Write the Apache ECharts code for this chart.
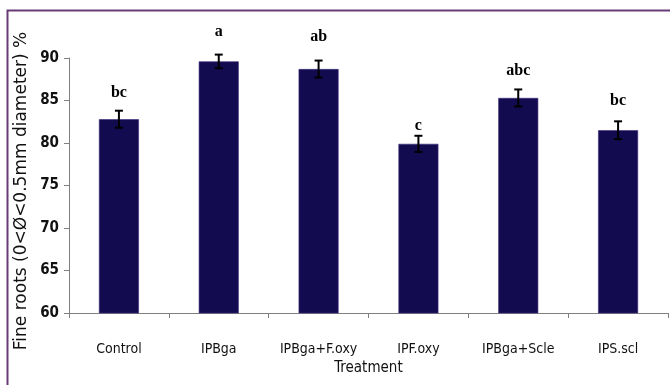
<!DOCTYPE html>
<html>
<head>
<meta charset="utf-8">
<script src="https://cdn.jsdelivr.net/npm/echarts@6/dist/echarts.min.js"></script>
<style>
html,body{margin:0;padding:0;background:#fff;}
#c{width:670px;height:385px;}
</style>
</head>
<body>
<div id="c"></div>
<script>
var categories = ['Control', 'IPBga', 'IPBga+F.oxy', 'IPF.oxy', 'IPBga+Scle', 'IPS.scl'];
var values = [82.8, 89.6, 88.7, 79.9, 85.3, 81.5];
var errors = [1.0, 0.8, 1.0, 0.95, 1.0, 1.05];
var letters = ['bc', 'a', 'ab', 'c', 'abc', 'bc'];
var letterPos = [85.9, 93.1, 92.5, 82.0, 88.5, 84.9];
var yTicks = [60, 65, 70, 75, 80, 85, 90];
var yTitle = 'Fine roots (0<Ø<0.5mm diameter) %';

var chart = echarts.init(document.getElementById('c'), null, {renderer: 'canvas'});
var option = {
  backgroundColor: '#ffffff',
  animation: false,
  graphic: [{
    type: 'rect',
    shape: {x: 7.5, y: 10.5, width: 700, height: 400},
    style: {fill: 'none', stroke: '#6a3a78', lineWidth: 2},
    silent: true
  }, {
    type: 'text',
    x: 22, y: 191,
    rotation: Math.PI / 2,
    style: {
      text: yTitle,
      fontFamily: 'DejaVu Sans',
      fontSize: 17,
      fill: '#111',
      align: 'center',
      verticalAlign: 'middle'
    },
    silent: true
  }],
  grid: {left: 69, top: 58, right: 2, bottom: 72},
  xAxis: {
    type: 'category',
    data: categories,
    name: 'Treatment',
    nameLocation: 'middle',
    nameGap: 47,
    nameTextStyle: {fontFamily: 'DejaVu Sans Condensed', fontSize: 15, color: '#111'},
    axisLine: {lineStyle: {color: '#7f7f7f', width: 1}},
    axisTick: {show: true, interval: 0, length: 5, lineStyle: {color: '#7f7f7f'}},
    axisLabel: {interval: 0, margin: 29, fontFamily: 'DejaVu Sans Condensed', fontSize: 14, color: '#111'}
  },
  yAxis: {
    type: 'value',
    min: yTicks[0],
    max: yTicks[yTicks.length - 1],
    interval: 5,
    axisLine: {show: true, lineStyle: {color: '#7f7f7f', width: 1}},
    axisTick: {show: true, length: 5, lineStyle: {color: '#7f7f7f'}},
    splitLine: {show: false},
    axisLabel: {margin: 10, fontFamily: 'DejaVu Sans Condensed', fontWeight: 'bold', fontSize: 15, color: '#111'}
  },
  series: [{
    type: 'bar',
    data: values,
    barWidth: '40%',
    z: 2,
    itemStyle: {color: '#130b4f', borderColor: '#3a2a7a', borderWidth: 0.6}
  }, {
    type: 'custom',
    z: 10,
    data: values.map(function (v, i) { return [i, v - errors[i], v + errors[i]]; }),
    clip: false,
    renderItem: function (params, api) {
      var x = api.coord([api.value(0), 0])[0];
      var lo = api.coord([api.value(0), api.value(1)])[1];
      var hi = api.coord([api.value(0), api.value(2)])[1];
      var w = 4;
      var st = {stroke: '#000', lineWidth: 2};
      return {
        type: 'group',
        children: [
          {type: 'line', shape: {x1: x, y1: lo, x2: x, y2: hi}, style: st},
          {type: 'line', shape: {x1: x - w, y1: hi, x2: x + w, y2: hi}, style: st},
          {type: 'line', shape: {x1: x - w, y1: lo, x2: x + w, y2: lo}, style: st}
        ]
      };
    },
    encode: {x: 0, y: [1, 2]}
  }, {
    type: 'custom',
    z: 10,
    data: letterPos.map(function (v, i) { return [i, v, letters[i]]; }),
    clip: false,
    renderItem: function (params, api) {
      var p = api.coord([api.value(0), api.value(1)]);
      return {
        type: 'text',
        x: p[0], y: p[1],
        style: {
          text: letters[params.dataIndex],
          fontFamily: 'Liberation Serif',
          fontWeight: 'bold',
          fontSize: 16,
          fill: '#000',
          align: 'center',
          verticalAlign: 'middle'
        }
      };
    },
    encode: {x: 0, y: 1}
  }]
};
chart.setOption(option);
</script>
</body>
</html>
